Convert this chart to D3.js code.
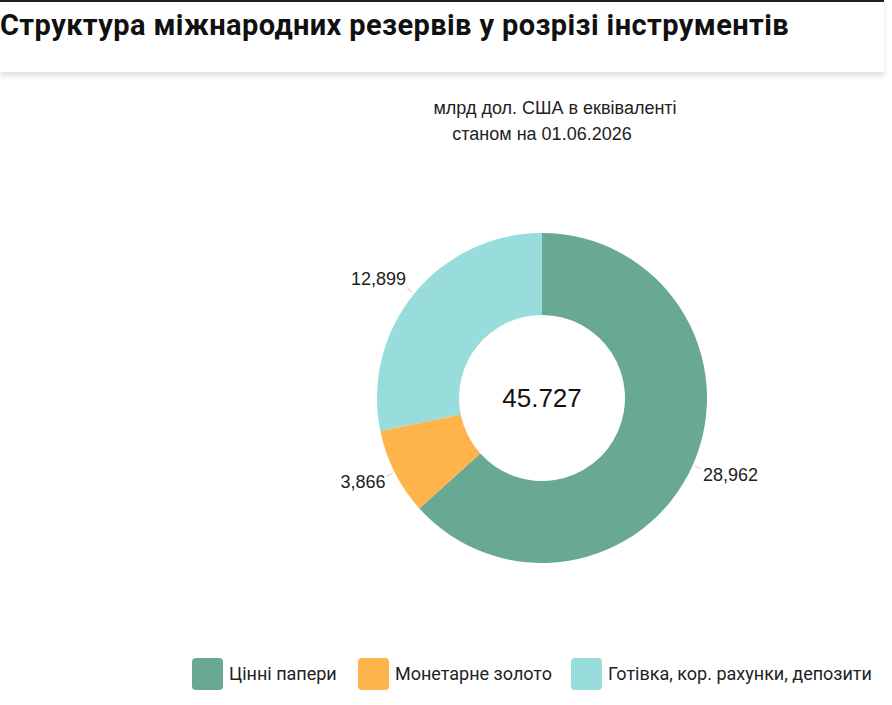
<!DOCTYPE html>
<html>
<head>
<meta charset="utf-8">
<script src="https://cdn.jsdelivr.net/npm/d3@7"></script>
<style>
  body { margin: 0; background: #fff; overflow: hidden; }
  .header {
    position: absolute; left: 0; top: 0; width: 884px; height: 70px;
    border-top: 2px solid #222; background: #fff;
    box-shadow: 0 4px 5px rgba(0,0,0,0.12);
  }
  .header h2 {
    margin: 0; padding: 6px 0 0 0;
    font-family: Roboto, sans-serif; font-weight: 700; font-size: 29px; color: #111;
    letter-spacing: 0.4px; white-space: nowrap;
  }
  svg { position: absolute; left: 0; top: 0; }
</style>
</head>
<body>
<div class="header"><h2>Структура міжнародних резервів у розрізі інструментів</h2></div>
<script>
var categories = ["Цінні папери", "Монетарне золото", "Готівка, кор. рахунки, депозити"];
var values = [28.962, 3.866, 12.899];
var valueLabels = ["28,962", "3,866", "12,899"];
var colors = ["#69a894", "#ffb34b", "#98dcdc"];
var totalLabel = "45.727";
var subtitle = ["млрд дол. США в еквіваленті", "станом на 01.06.2026"];

var width = 892, height = 705;
var cx = 542, cy = 398, outerR = 165, innerR = 83;

var svg = d3.select("body").append("svg")
  .attr("width", width)
  .attr("height", height);

// subtitle
svg.append("text").attr("x", 555).attr("y", 114)
  .attr("text-anchor", "middle")
  .style("font-family", "'Liberation Sans', Arial, sans-serif")
  .style("font-size", "18px").attr("fill", "#222")
  .text(subtitle[0]);
svg.append("text").attr("x", 542).attr("y", 140)
  .attr("text-anchor", "middle")
  .style("font-family", "'Liberation Sans', Arial, sans-serif")
  .style("font-size", "18px").attr("fill", "#222")
  .text(subtitle[1]);

var pie = d3.pie().sort(null).value(d => d);
var arcs = pie(values);

var arc = d3.arc().innerRadius(innerR).outerRadius(outerR);
var lineStart = d3.arc().innerRadius(outerR + 2).outerRadius(outerR + 2);
var lineEnd = d3.arc().innerRadius(outerR + 9).outerRadius(outerR + 9);
var labelArc = d3.arc().innerRadius(outerR + 8).outerRadius(outerR + 8);

var g = svg.append("g").attr("transform", `translate(${cx},${cy})`);

g.selectAll("path.slice")
  .data(arcs)
  .enter()
  .append("path")
  .attr("class", "slice")
  .attr("d", arc)
  .attr("fill", (d, i) => colors[i]);

// leader lines
g.selectAll("line.lead")
  .data(arcs)
  .enter()
  .append("line")
  .attr("x1", d => lineStart.centroid(d)[0])
  .attr("y1", d => lineStart.centroid(d)[1])
  .attr("x2", d => lineEnd.centroid(d)[0])
  .attr("y2", d => lineEnd.centroid(d)[1])
  .attr("stroke", "#ccc")
  .attr("stroke-width", 1);

// value labels
g.selectAll("text.val")
  .data(arcs)
  .enter()
  .append("text")
  .attr("class", "val")
  .attr("x", d => {
    var c = labelArc.centroid(d);
    return c[0] < 0 ? c[0] - 2 : c[0] + 3;
  })
  .attr("y", d => {
    var c = labelArc.centroid(d);
    return c[1] < 0 ? c[1] - 10 : c[1] + 6;
  })
  .attr("dy", "0.35em")
  .attr("text-anchor", d => labelArc.centroid(d)[0] < 0 ? "end" : "start")
  .style("font-family", "'Liberation Sans', Arial, sans-serif")
  .style("font-size", "18px")
  .attr("fill", "#222")
  .text((d, i) => valueLabels[i]);

// total in the middle
g.append("text")
  .attr("text-anchor", "middle")
  .attr("dy", "0.35em")
  .style("font-family", "'Liberation Sans', Arial, sans-serif")
  .style("font-size", "26px")
  .attr("fill", "#111")
  .text(totalLabel);

// legend
var legendX = [192, 358, 571];
var legend = svg.append("g").attr("transform", "translate(0,658)");
var item = legend.selectAll("g")
  .data(categories)
  .enter()
  .append("g")
  .attr("transform", (d, i) => `translate(${legendX[i]},0)`);

item.append("rect")
  .attr("width", 31).attr("height", 32)
  .attr("rx", 4).attr("ry", 4)
  .attr("fill", (d, i) => colors[i]);

item.append("text")
  .attr("x", 37).attr("y", 16).attr("dy", "0.35em")
  .style("font-family", "Roboto, sans-serif")
  .style("font-size", "18px")
  .attr("fill", "#222")
  .text(d => d);
</script>
</body>
</html>
